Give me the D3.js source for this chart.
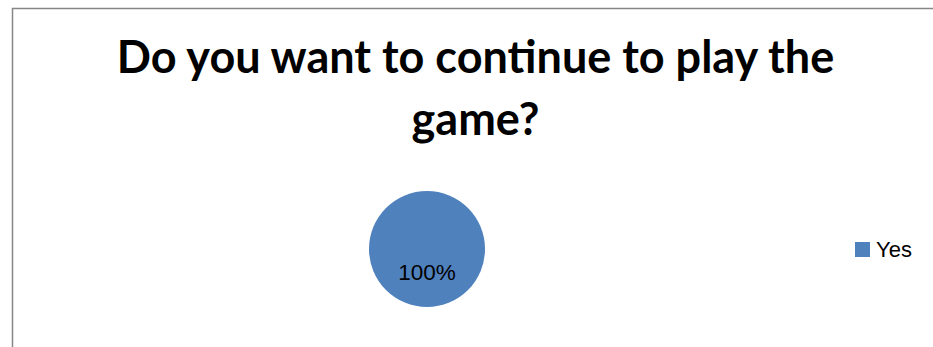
<!DOCTYPE html>
<html>
<head>
<meta charset="utf-8">
<script src="https://cdn.jsdelivr.net/npm/d3@7/dist/d3.min.js"></script>
<style>
  html, body { margin: 0; padding: 0; background: #fff; }
  svg { display: block; }
</style>
</head>
<body>
<script>
// Survey answers and their shares
const categories = ["Yes"];
const values = [100];
const titleLines = ["Do you want to continue to play the", "game?"];

const W = 933, H = 347;
const svg = d3.select("body").append("svg").attr("width", W).attr("height", H);

// chart frame (top and left edges visible)
svg.append("path")
  .attr("d", `M12.5,${H} L12.5,8.5 L${W},8.5`)
  .attr("fill", "none").attr("stroke", "#868686").attr("stroke-width", 1.5);

// title
const title = svg.append("text")
  .attr("text-anchor", "middle")
  .attr("font-family", "Lato, 'Open Sans', sans-serif")
  .attr("font-weight", "bold")
  .attr("font-size", 45)
  .attr("fill", "#000");
title.selectAll("tspan").data(titleLines).join("tspan")
  .attr("x", 475.5)
  .attr("y", (d, i) => 73 + i * 62)
  .text(d => d);

// pie
const color = d3.scaleOrdinal().domain(categories).range(["#4F81BD"]);
const cx = 427, cy = 249, r = 58;
const pie = d3.pie().sort(null).value(d => d.value);
const data = categories.map((c, i) => ({ name: c, value: values[i] }));
const arcs = pie(data);
const arc = d3.arc().innerRadius(0).outerRadius(r);
const total = d3.sum(values);

const g = svg.append("g").attr("transform", `translate(${cx},${cy})`);
g.selectAll("path").data(arcs).join("path")
  .attr("d", arc)
  .attr("fill", d => color(d.data.name));

// data labels: percentages inside the slice, placed toward the bottom
g.selectAll("text.lbl").data(arcs).join("text")
  .attr("class", "lbl")
  .attr("x", 0)
  .attr("y", 31)
  .attr("text-anchor", "middle")
  .attr("font-family", "'Liberation Sans', Arial, sans-serif")
  .attr("font-size", 22.5)
  .attr("fill", "#000")
  .text(d => Math.round(d.data.value / total * 100) + "%");

// legend
const lg = svg.append("g").attr("transform", "translate(855,242)");
const items = lg.selectAll("g").data(categories).join("g")
  .attr("transform", (d, i) => `translate(0,${i * 30})`);
items.append("rect").attr("width", 15).attr("height", 15)
  .attr("fill", d => color(d));
items.append("text")
  .attr("x", 21).attr("y", 15)
  .attr("font-family", "'Liberation Sans', Arial, sans-serif")
  .attr("font-size", 22)
  .attr("fill", "#000")
  .text(d => d);
</script>
</body>
</html>
